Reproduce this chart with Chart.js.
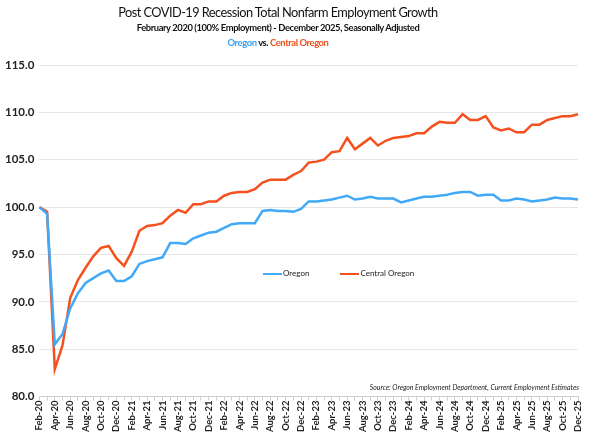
<!DOCTYPE html>
<html>
<head>
<meta charset="utf-8">
<script src="https://cdn.jsdelivr.net/npm/chart.js@4.4.0/dist/chart.umd.min.js"></script>
<style>
  html, body { margin: 0; padding: 0; background: #fff; }
  #wrap { position: relative; width: 600px; height: 436px; font-family: Lato, "Open Sans", sans-serif; }
  #chart { position: absolute; left: 0; top: 0; }
  .t { position: absolute; left: 0; width: 556px; text-align: center; color: #111; }
  #t1 { top: 4px; font-size: 12.8px; letter-spacing: -0.55px; }
  #t2 { top: 22px; font-size: 9.4px; font-weight: bold; letter-spacing: -0.4px; }
  #t3 { top: 37px; font-size: 9.4px; font-weight: bold; letter-spacing: -0.4px; }
  #legend { position: absolute; top: 268px; left: 263px; font-size: 8px; color: #222; white-space: nowrap; }
  #legend span.sw { display: inline-block; width: 19px; height: 2.5px; vertical-align: middle; margin-right: 1px; }
  #source { position: absolute; top: 383px; right: 21px; font-size: 6.9px; font-style: italic; color: #222; }
</style>
</head>
<body>
<div id="wrap">
  <canvas id="chart" width="600" height="436"></canvas>
  <div class="t" id="t1">Post COVID-19 Recession Total Nonfarm Employment Growth</div>
  <div class="t" id="t2">February 2020 (100% Employment) - December 2025, Seasonally Adjusted</div>
  <div class="t" id="t3"><span style="color:#3d9df0">Oregon</span> vs. <span style="color:#f0501c">Central Oregon</span></div>
  <div id="legend"><span class="sw" style="background:#41a9f7"></span>Oregon<span style="display:inline-block;width:31px"></span><span class="sw" style="background:#f4511e"></span>Central Oregon</div>
  <div id="source">Source: Oregon Employment Department, Current Employment Estimates</div>
</div>
<script>
var monthNames = ["Jan","Feb","Mar","Apr","May","Jun","Jul","Aug","Sep","Oct","Nov","Dec"];

// Feb-20 .. Dec-25, monthly
var labels = [];
for (var i = 0; i < 71; i++) {
  var m = (i + 1) % 12;
  var yr = 20 + Math.floor((i + 1) / 12);
  labels.push(monthNames[m] + "-" + yr);
}

var oregon = [
  100.0, 99.3, 85.5, 86.6, 89.3, 90.9, 92.0, 92.5, 93.0, 93.3, 92.2, 92.2,
  92.7, 94.0, 94.3, 94.5, 94.7, 96.2, 96.2, 96.1, 96.7, 97.0, 97.3, 97.4,
  97.8, 98.2, 98.3, 98.3, 98.3, 99.6, 99.7, 99.6, 99.6, 99.5, 99.8, 100.6,
  100.6, 100.7, 100.8, 101.0, 101.2, 100.8, 100.9, 101.1, 100.9, 100.9, 100.9, 100.5,
  100.7, 100.9, 101.1, 101.1, 101.2, 101.3, 101.5, 101.6, 101.6, 101.2, 101.3, 101.3,
  100.7, 100.7, 100.9, 100.8, 100.6, 100.7, 100.8, 101.0, 100.9, 100.9, 100.8
];

var centralOregon = [
  100.0, 99.5, 82.9, 85.4, 90.4, 92.3, 93.6, 94.8, 95.7, 95.9, 94.6, 93.8,
  95.3, 97.5, 98.0, 98.1, 98.3, 99.1, 99.7, 99.4, 100.3, 100.3, 100.6, 100.6,
  101.2, 101.5, 101.6, 101.6, 101.9, 102.6, 102.9, 102.9, 102.9, 103.4, 103.8, 104.7,
  104.8, 105.0, 105.8, 105.9, 107.3, 106.1, 106.7, 107.3, 106.5, 107.0, 107.3, 107.4,
  107.5, 107.8, 107.8, 108.5, 109.0, 108.9, 108.9, 109.8, 109.2, 109.2, 109.6, 108.4,
  108.1, 108.3, 107.9, 107.9, 108.7, 108.7, 109.2, 109.4, 109.6, 109.6, 109.8
];

var yMin = 80, yMax = 115, yStep = 5;

new Chart(document.getElementById("chart"), {
  type: 'line',
  data: {
    labels: labels,
    datasets: [
      {
        label: "Oregon",
        borderColor: "#41a9f7",
        backgroundColor: "#41a9f7",
        borderWidth: 2.5,
        pointRadius: 0,
        tension: 0,
        data: oregon
      }, {
        label: "Central Oregon",
        borderColor: "#f4511e",
        backgroundColor: "#f4511e",
        borderWidth: 2.5,
        pointRadius: 0,
        tension: 0,
        data: centralOregon
      }
    ]
  },
  options: {
    responsive: false,
    animation: false,
    layout: { padding: { top: 65, right: 22, left: 0, bottom: 4 } },
    plugins: {
      legend: { display: false },
      title: { display: false },
      tooltip: { enabled: false }
    },
    scales: {
      x: {
        offset: false,
        grid: { display: true, drawOnChartArea: false, drawTicks: true, tickLength: 4, color: "#d0d0d0" },
        border: { display: true, color: "#d0d0d0" },
        ticks: {
          autoSkip: false,
          maxRotation: 90,
          minRotation: 90,
          padding: 0,
          color: "#222",
          font: { family: "Lato", size: 9.5, weight: "bold" },
          callback: function (v, i) { return i % 2 === 0 ? labels[i] : ""; }
        }
      },
      y: {
        min: yMin,
        max: yMax,
        grid: { color: "#e6e6e6", drawTicks: false, lineWidth: 1 },
        border: { display: false },
        ticks: {
          stepSize: yStep,
          padding: 5,
          color: "#222",
          font: { family: "Lato", size: 11.5, weight: "bold" },
          callback: function (v) { return v.toFixed(1); }
        }
      }
    }
  }
});
</script>
</body>
</html>
